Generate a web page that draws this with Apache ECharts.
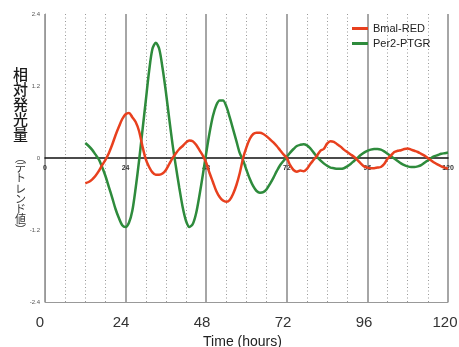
<!DOCTYPE html>
<html><head><meta charset="utf-8">
<script src="https://cdn.jsdelivr.net/npm/echarts@6/dist/echarts.min.js"></script>
<style>html,body{margin:0;padding:0;background:#fff}#c{width:459px;height:347px}</style>
</head><body><div id="c"></div>
<script>
const seriesNames = ['Bmal-RED', 'Per2-PTGR'];
const hours = [];
for (let h = 12; h <= 120; h++) hours.push(h);
const bmalRed = [
 -0.42,-0.40,-0.36,-0.30,-0.22,-0.12,-0.03,0.08,0.22,0.38,0.52,0.65,0.73,0.75,0.68,0.60,0.45,0.20,-0.02,-0.15,
 -0.24,-0.28,-0.28,-0.26,-0.20,-0.10,0.00,0.08,0.15,0.20,0.26,0.29,0.28,0.22,0.13,0.04,-0.08,-0.25,-0.40,-0.55,
 -0.65,-0.71,-0.73,-0.70,-0.60,-0.45,-0.25,0.00,0.18,0.32,0.40,0.42,0.42,0.40,0.36,0.31,0.26,0.20,0.13,0.06,
 0.00,-0.12,-0.20,-0.23,-0.21,-0.22,-0.18,-0.10,-0.03,0.04,0.12,0.15,0.24,0.28,0.27,0.23,0.19,0.14,0.10,0.06,
 0.02,-0.03,-0.09,-0.14,-0.16,-0.17,-0.17,-0.16,-0.15,-0.10,-0.01,0.04,0.10,0.12,0.13,0.15,0.16,0.14,0.12,0.10,
 0.07,0.04,0.00,-0.04,-0.08,-0.11,-0.14,-0.16,-0.18
];
const per2Ptgr = [
 0.25,0.20,0.14,0.06,-0.02,-0.15,-0.30,-0.48,-0.66,-0.85,-1.00,-1.12,-1.15,-1.08,-0.88,-0.50,-0.05,0.45,0.95,1.45,
 1.82,1.92,1.82,1.50,1.10,0.65,0.22,-0.15,-0.50,-0.82,-1.05,-1.15,-1.10,-0.92,-0.62,-0.28,0.08,0.42,0.70,0.88,
 0.96,0.96,0.86,0.68,0.48,0.28,0.08,-0.04,-0.20,-0.35,-0.47,-0.55,-0.58,-0.57,-0.52,-0.43,-0.33,-0.22,-0.12,-0.05,
 0.02,0.09,0.15,0.20,0.22,0.23,0.21,0.16,0.09,0.02,-0.04,-0.09,-0.13,-0.16,-0.17,-0.18,-0.18,-0.17,-0.14,-0.10,
 -0.05,0.00,0.05,0.09,0.12,0.14,0.15,0.15,0.14,0.11,0.07,0.03,-0.01,-0.05,-0.09,-0.12,-0.14,-0.15,-0.15,-0.14,
 -0.12,-0.08,-0.04,0.00,0.03,0.05,0.07,0.08,0.09
];
const xMin = 0, xMax = 120, xStep = 24;
const yMin = -2.4, yMax = 2.4, yStep = 1.2;
const yTitle = '相対発光量';
const ySubTitle = '︵デトレンド値︶';
const xTitle = 'Time (hours)';

const chart = echarts.init(document.getElementById('c'), null, {renderer:'canvas'});
const vert = s => Array.from(s).join('\n');
const FONT = 'Liberation Sans, Arial, sans-serif';
chart.setOption({
  animation: false,
  backgroundColor: '#fff',
  grid: [
    {left: 45, right: 11, top: 14, bottom: 45, outerBoundsMode: 'none'},
    {left: 45, right: 11, top: 14, height: 144, outerBoundsMode: 'none'},
    {left: 40, right: 14, top: 14, bottom: 45, outerBoundsMode: 'none'}
  ],
  legend: {
    data: seriesNames, orient: 'vertical', left: 352, top: 23, padding: 0,
    icon: 'rect', itemWidth: 16, itemHeight: 3, itemGap: 4,
    textStyle: {fontSize: 11, color: '#222', fontFamily: FONT}
  },
  graphic: [
    {type: 'text', left: 13, top: 67, style: {text: vert(yTitle), font: '500 15px "Noto Sans CJK JP"', fill: '#1a1a1a', lineHeight: 15, textAlign: 'center'}},
    {type: 'text', left: 15, top: 152, style: {text: vert(ySubTitle), font: '11px "Noto Sans CJK JP"', fill: '#333', lineHeight: 10.3, textAlign: 'center'}}
  ],
  xAxis: [
    {
      gridIndex: 0, type: 'value', min: xMin, max: xMax, interval: xStep, position: 'bottom',
      axisLine: {onZero: false, lineStyle: {color: '#999', width: 1}},
      axisTick: {show: false},
      axisLabel: {show: false},
      splitLine: {show: true, lineStyle: {color: '#888', width: 1.5}},
      minorTick: {show: false, splitNumber: 4},
      minorSplitLine: {show: true, lineStyle: {color: '#999', type: [1, 2.5], width: 1}}
    },
    {
      gridIndex: 1, type: 'value', min: xMin, max: xMax, interval: xStep, position: 'bottom',
      axisLine: {onZero: false, lineStyle: {color: '#111', width: 1.5}},
      axisTick: {show: false},
      axisLabel: {fontSize: 7, color: '#333', margin: 7, fontWeight: 'bold', fontFamily: FONT},
      splitLine: {show: false}
    },
    {
      gridIndex: 2, type: 'value', min: xMin, max: xMax, interval: xStep, position: 'bottom',
      axisLine: {show: false},
      axisTick: {show: false},
      axisLabel: {fontSize: 15, color: '#333', margin: 13, fontFamily: FONT},
      splitLine: {show: false},
      name: xTitle, nameLocation: 'middle', nameGap: 33,
      nameTextStyle: {fontSize: 14, color: '#222', fontFamily: FONT}
    }
  ],
  yAxis: [
    {
      gridIndex: 0, type: 'value', min: yMin, max: yMax, interval: yStep,
      axisLine: {show: true, onZero: false, lineStyle: {color: '#999', width: 1}},
      axisTick: {show: false},
      axisLabel: {fontSize: 6, color: '#555', margin: 5, formatter: v => String(Math.round(v * 10) / 10)},
      splitLine: {show: false}
    },
    {gridIndex: 1, type: 'value', min: 0, max: 1, show: false},
    {gridIndex: 2, type: 'value', min: 0, max: 1, show: false}
  ],
  series: [
    {name: seriesNames[0], type: 'line', xAxisIndex: 0, yAxisIndex: 0, showSymbol: false, symbol: 'none', smooth: 0.3,
     data: hours.map((h, i) => [h, bmalRed[i]]), lineStyle: {color: '#e8401e', width: 2.5}, itemStyle: {color: '#e8401e'}, z: 3},
    {name: seriesNames[1], type: 'line', xAxisIndex: 0, yAxisIndex: 0, showSymbol: false, symbol: 'none', smooth: 0.3,
     data: hours.map((h, i) => [h, per2Ptgr[i]]), lineStyle: {color: '#2e8b3c', width: 2.5}, itemStyle: {color: '#2e8b3c'}, z: 2}
  ]
});
</script></body></html>
